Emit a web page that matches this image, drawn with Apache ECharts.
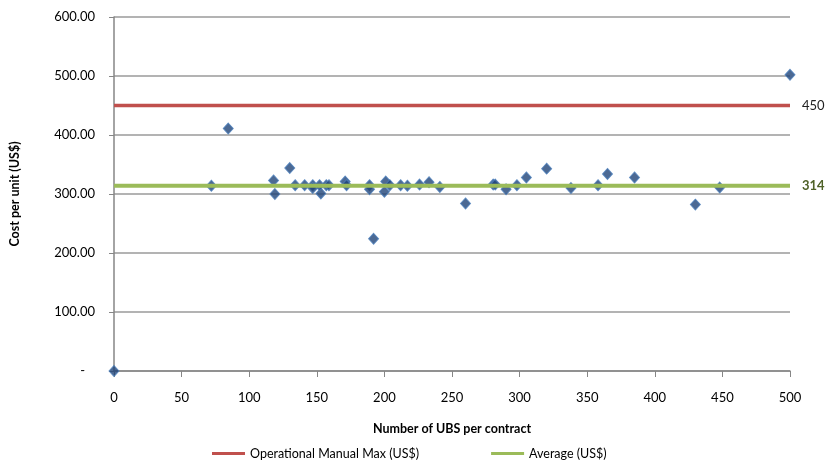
<!DOCTYPE html>
<html>
<head>
<meta charset="utf-8">
<script src="https://cdn.jsdelivr.net/npm/echarts@6/dist/echarts.min.js"></script>
<style>html,body{margin:0;padding:0;background:#fff}#c{width:831px;height:470px}</style>
</head>
<body>
<div id="c"></div>
<script>
const ubsCount = [0, 72, 84.5, 118, 119, 130, 134, 141, 147, 147, 153, 152, 157, 159, 171, 172, 189, 189, 192, 201, 200, 204, 212, 217, 226, 233, 241, 260, 280.5, 282, 290, 298, 305, 320, 338, 358, 365, 385, 430, 448, 500];
const costPerUnit = [0, 314, 411, 323, 300, 344, 315, 315, 315, 310, 301, 315, 315, 315, 321, 315, 315, 308, 224, 321, 304, 315, 315, 314, 316, 320, 312, 284, 316, 316, 308, 315, 328, 343, 310, 315, 334, 328, 282, 311, 502];
const xRange = [0, 500];
const manualMax = 450;
const averageCost = 314;
const seriesNames = ['Operational Manual Max (US$)', 'Average (US$)'];

const FONT = 'Lato, "Noto Sans", sans-serif';
const chart = echarts.init(document.getElementById('c'), null, {renderer: 'canvas'});
chart.setOption({
  animation: false,
  textStyle: {fontFamily: FONT},
  grid: {left: 111, right: 41, top: 17, bottom: 99},
  legend: {
    data: seriesNames,
    left: 207, top: 442,
    icon: 'rect', itemWidth: 33, itemHeight: 3, itemGap: 72,
    textStyle: {fontFamily: FONT, fontSize: 12.5, color: '#000'}
  },
  xAxis: {
    type: 'value', min: 0, max: 500, interval: 50,
    name: 'Number of UBS per contract', nameLocation: 'middle', nameGap: 51,
    nameTextStyle: {fontFamily: FONT, fontSize: 12.5, fontWeight: 'bold', color: '#000'},
    axisLine: {show: true, onZero: false, lineStyle: {color: '#868686', width: 1.5}},
    axisTick: {show: true, length: 6, lineStyle: {color: '#868686'}},
    axisLabel: {margin: 20, fontSize: 13, color: '#000', fontFamily: FONT},
    splitLine: {show: false}
  },
  yAxis: {
    type: 'value', min: 0, max: 600, interval: 100,
    name: 'Cost per unit (US$)', nameLocation: 'middle', nameGap: 93,
    nameTextStyle: {fontFamily: FONT, fontSize: 12.5, fontWeight: 'bold', color: '#000'},
    axisLine: {show: true, lineStyle: {color: '#868686', width: 1.5}},
    axisTick: {show: true, length: 5, lineStyle: {color: '#868686'}},
    axisLabel: {margin: 19, fontSize: 13, color: '#000', fontFamily: FONT,
      formatter: v => v === 0 ? '-   ' : v.toFixed(2)},
    splitLine: {show: true, lineStyle: {color: '#9a9a9a', width: 1.5}}
  },
  series: [
    {
      name: 'Cost', type: 'scatter', symbol: 'diamond', symbolSize: [10, 11], z: 2,
      itemStyle: {color: '#1f4478', borderColor: '#4a7ebb', borderWidth: 1},
      data: ubsCount.map((x, i) => [x, costPerUnit[i]])
    },
    {
      name: seriesNames[0], type: 'line', symbol: 'none', z: 3,
      lineStyle: {color: '#c0504d', width: 3.5},
      itemStyle: {color: '#c0504d'},
      data: [[xRange[0], manualMax], [xRange[1], manualMax]],
      endLabel: {show: true, formatter: () => String(manualMax), distance: 12,
        fontSize: 13, color: '#222', fontFamily: FONT}
    },
    {
      name: seriesNames[1], type: 'line', symbol: 'none', z: 3,
      lineStyle: {color: '#9bbb59', width: 4},
      itemStyle: {color: '#9bbb59'},
      data: [[xRange[0], averageCost], [xRange[1], averageCost]],
      endLabel: {show: true, formatter: () => String(averageCost), distance: 12,
        fontSize: 13, fontWeight: 'bold', color: '#4f6228', fontFamily: FONT}
    }
  ]
});
</script>
</body>
</html>
